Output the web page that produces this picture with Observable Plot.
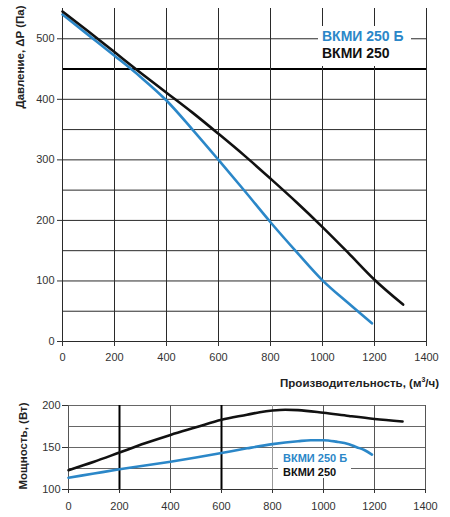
<!DOCTYPE html>
<html><head><meta charset="utf-8">
<script src="https://cdn.jsdelivr.net/npm/d3@7"></script>
<script src="https://cdn.jsdelivr.net/npm/@observablehq/plot@0.6"></script>
<style>
body{margin:0;background:#fff;font-family:"Liberation Sans",Arial,sans-serif;}
#wrap{position:relative;width:450px;height:517px;overflow:hidden;}
#topChart{position:absolute;left:0;top:0;}
#botChart{position:absolute;left:0;top:395px;}
.leg{position:absolute;background:#fff;font-weight:bold;white-space:nowrap;}
.lab{position:absolute;font-weight:bold;white-space:nowrap;color:#222;font-size:11.5px;}
.rot{transform:translate(-50%,-50%) rotate(-90deg);}
</style></head>
<body><div id="wrap">
<div id="topChart"></div><div id="botChart"></div>
</div>
<script>
// Series names
const nameB = "ВКМИ 250 Б";
const nameA = "ВКМИ 250";
const blue = "#2b87c8";
const black = "#111111";

// Ticks
const flowTicks = [0,200,400,600,800,1000,1200,1400];
const pressureTicks = [0,100,200,300,400,500];
const pressureGrid = [0,50,100,150,200,250,300,350,400,450,500];
const powerTicks = [100,150,200];
const powerGrid = [100,125,150,175,200];

// Pressure curves (flow m3/h -> Pa)
const pFlowA = [0,100,200,300,400,500,600,700,800,900,1000,1100,1200,1310];
const pValA  = [545,512,478,444,411,378,343,307,269,230,189,146,102,61];
const pFlowB = [0,100,200,300,400,500,600,700,800,900,1000,1100,1190];
const pValB  = [540,506,472,437,398,350,300,249,197,148,101,63,30];

// Power curves (flow m3/h -> W)
const wFlowA = [0,100,200,300,400,500,600,700,750,800,850,900,1000,1100,1200,1310];
const wValA  = [123,133,144,155,165,174,183,189,192,194,195,194.5,191.3,187.5,184,181];
const wFlowB = [0,100,200,300,400,500,600,700,800,900,950,1000,1050,1100,1130,1160,1190];
const wValB  = [114,119,124,128.5,133,138,143.5,149,154,157.5,158.7,158.7,157,154,150.4,147,141.5];

const zip = (xs, ys) => xs.map((x,i)=>({x, y: ys[i]}));
const font = '"Liberation Sans", Arial, sans-serif';

const chartP = Plot.plot({
  width: 450, height: 385,
  marginLeft: 62, marginRight: 24, marginTop: 8, marginBottom: 44,
  style: {fontFamily: font, fontSize: "11px", color: "#333", background: "#fff"},
  x: {domain: [0,1400]},
  y: {domain: [0,550]},
  marks: [
    Plot.ruleY(pressureGrid.filter(d => d !== 450), {stroke: "#2a2a2a", strokeWidth: 1}),
    Plot.ruleY(pressureGrid.filter(d => d === 450), {stroke: "#000", strokeWidth: 2}),
    Plot.ruleX(flowTicks, {stroke: "#2a2a2a", strokeWidth: 1}),
    Plot.axisX({ticks: flowTicks, tickSize: 5, tickPadding: 7, label: null, tickFormat: d => String(d)}),
    Plot.axisY({ticks: pressureTicks, tickSize: 5, tickPadding: 3, label: null}),
    Plot.line(zip(pFlowB, pValB), {x: "x", y: "y", stroke: blue, strokeWidth: 2.6, curve: "monotone-x"}),
    Plot.line(zip(pFlowA, pValA), {x: "x", y: "y", stroke: black, strokeWidth: 2.6, curve: "monotone-x"})
  ]
});
document.getElementById("topChart").append(chartP);

const chartW = Plot.plot({
  width: 450, height: 122,
  marginLeft: 68, marginRight: 25, marginTop: 10, marginBottom: 28,
  style: {fontFamily: font, fontSize: "11px", color: "#333", background: "#fff"},
  x: {domain: [0,1400]},
  y: {domain: [100,200]},
  marks: [
    Plot.ruleY(powerGrid, {stroke: d => (d === 100 ? "#333" : "#666"), strokeWidth: 1}),
    Plot.ruleX(flowTicks.filter(d => d !== 200 && d !== 600), {stroke: d => (d === 800 ? "#999" : "#555"), strokeWidth: 1}),
    Plot.ruleX(flowTicks.filter(d => d === 200 || d === 600), {stroke: "#000", strokeWidth: 2}),
    Plot.axisX({ticks: flowTicks, tickSize: 4, tickPadding: 9, label: null, tickFormat: d => String(d)}),
    Plot.axisY({ticks: powerTicks, tickSize: 6, tickPadding: 2, label: null}),
    Plot.line(zip(wFlowB, wValB), {x: "x", y: "y", stroke: blue, strokeWidth: 2.6, curve: "monotone-x"}),
    Plot.line(zip(wFlowA, wValA), {x: "x", y: "y", stroke: black, strokeWidth: 2.6, curve: "monotone-x"})
  ]
});
document.getElementById("botChart").append(chartW);

const wrap = document.getElementById("wrap");
function addDiv(cls, html, css) {
  const d = document.createElement("div");
  d.className = cls; d.innerHTML = html; d.style.cssText = css;
  wrap.append(d);
}
// legends
addDiv("leg", `<div style="color:${blue}">${nameB}</div><div style="color:${black}">${nameA}</div>`,
  "left:318px;top:26px;width:89px;height:38px;padding:2px 0 0 4px;font-size:14px;line-height:17px;");
addDiv("leg", `<div style="color:${blue}">${nameB}</div><div style="color:${black}">${nameA}</div>`,
  "left:278px;top:450px;width:68px;height:27px;padding:1px 0 0 5px;font-size:11px;line-height:14px;");
// axis labels
addDiv("lab", "Производительность, (м<sup style='font-size:7px'>3</sup>/ч)", "right:11px;top:372px;line-height:16px;");
addDiv("lab rot", "Давление, ΔP (Па)", "left:20px;top:57px;");
addDiv("lab rot", "Мощность, (Вт)", "left:23px;top:446px;");
</script>
</body></html>
